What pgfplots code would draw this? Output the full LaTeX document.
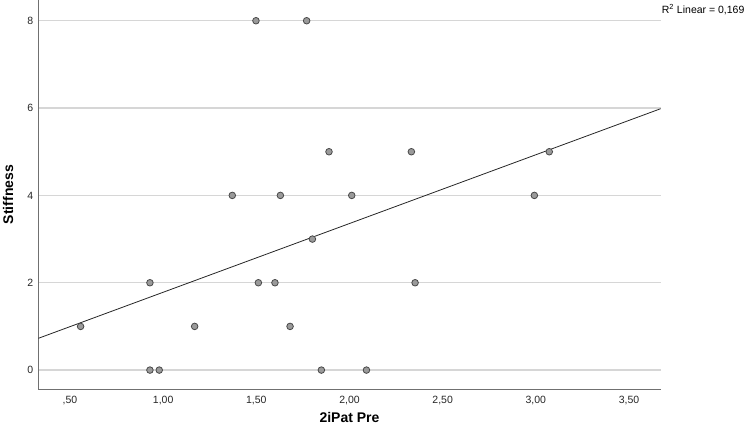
\documentclass[border=0pt]{standalone}
\usepackage{fontspec}
\setmainfont{Liberation Sans}
\usepackage{pgfplots}
\pgfplotsset{compat=1.18}
\definecolor{gridc}{HTML}{D6D6D6}
\definecolor{axc}{HTML}{707070}
\definecolor{mfill}{HTML}{9A9A9A}
\definecolor{medge}{HTML}{484848}
\begin{document}
\begin{tikzpicture}
\begin{axis}[
  scale only axis, width=622.4pt, height=389.3pt,
  xmin=0.33, xmax=3.67, ymin=-0.44, ymax=8.475,
  axis x line*=bottom, axis y line*=left,
  axis line style={-, draw=axc, line width=0.9pt},
  xtick={0.5,1,1.5,2,2.5,3,3.5}, ytick={0,2,4,6,8},
  xticklabels={{,50},{1,00},{1,50},{2,00},{2,50},{3,00},{3,50}},
  ymajorgrids, grid style={gridc, line width=1.2pt},
  major tick length=0pt,
  /pgf/number format/assume math mode=true,
  tick label style={font=\fontsize{10.5}{12}\selectfont, text=black!85},
  yticklabel style={xshift=-1.5pt},
  xticklabel style={yshift=-3.5pt},
  xlabel={2iPat Pre}, ylabel={Stiffness},
  every axis x label/.style={at={(axis description cs:0.5,-0.07115)}, anchor=center, font=\fontsize{14}{16}\selectfont\bfseries},
  every axis y label/.style={at={(axis description cs:-0.04868,0.5)}, anchor=center, rotate=90, font=\fontsize{14}{16}\selectfont\bfseries},
  clip mode=individual,
]
\addplot[black!85, line width=0.8pt] coordinates {(0.33,0.727) (3.67,5.986)};
\addplot[only marks, mark=*, mark size=3.3pt, mark options={fill=mfill, draw=medge, line width=0.8pt}] coordinates {
(0.557,1) (0.929,2) (0.929,0) (0.979,0) (1.169,1) (1.371,4) (1.498,8) (1.770,8)
(1.890,5) (2.332,5) (1.629,4) (2.012,4) (1.801,3) (1.511,2) (1.600,2) (2.352,2)
(1.681,1) (1.849,0) (2.091,0) (3.072,5) (2.992,4)
};
\coordinate (sw) at (rel axis cs:0,0);
\node[anchor=west, inner sep=0pt, xshift=1pt, yshift=-10pt, font=\fontsize{10.5}{12}\selectfont] at (rel axis cs:1,1) {R\textsuperscript{2} Linear = 0,169};
\end{axis}
\pgfresetboundingbox
\path[use as bounding box] (sw) ++(-38.3pt,-43.7pt) rectangle ++(749pt,433pt);
\end{tikzpicture}
\end{document}
